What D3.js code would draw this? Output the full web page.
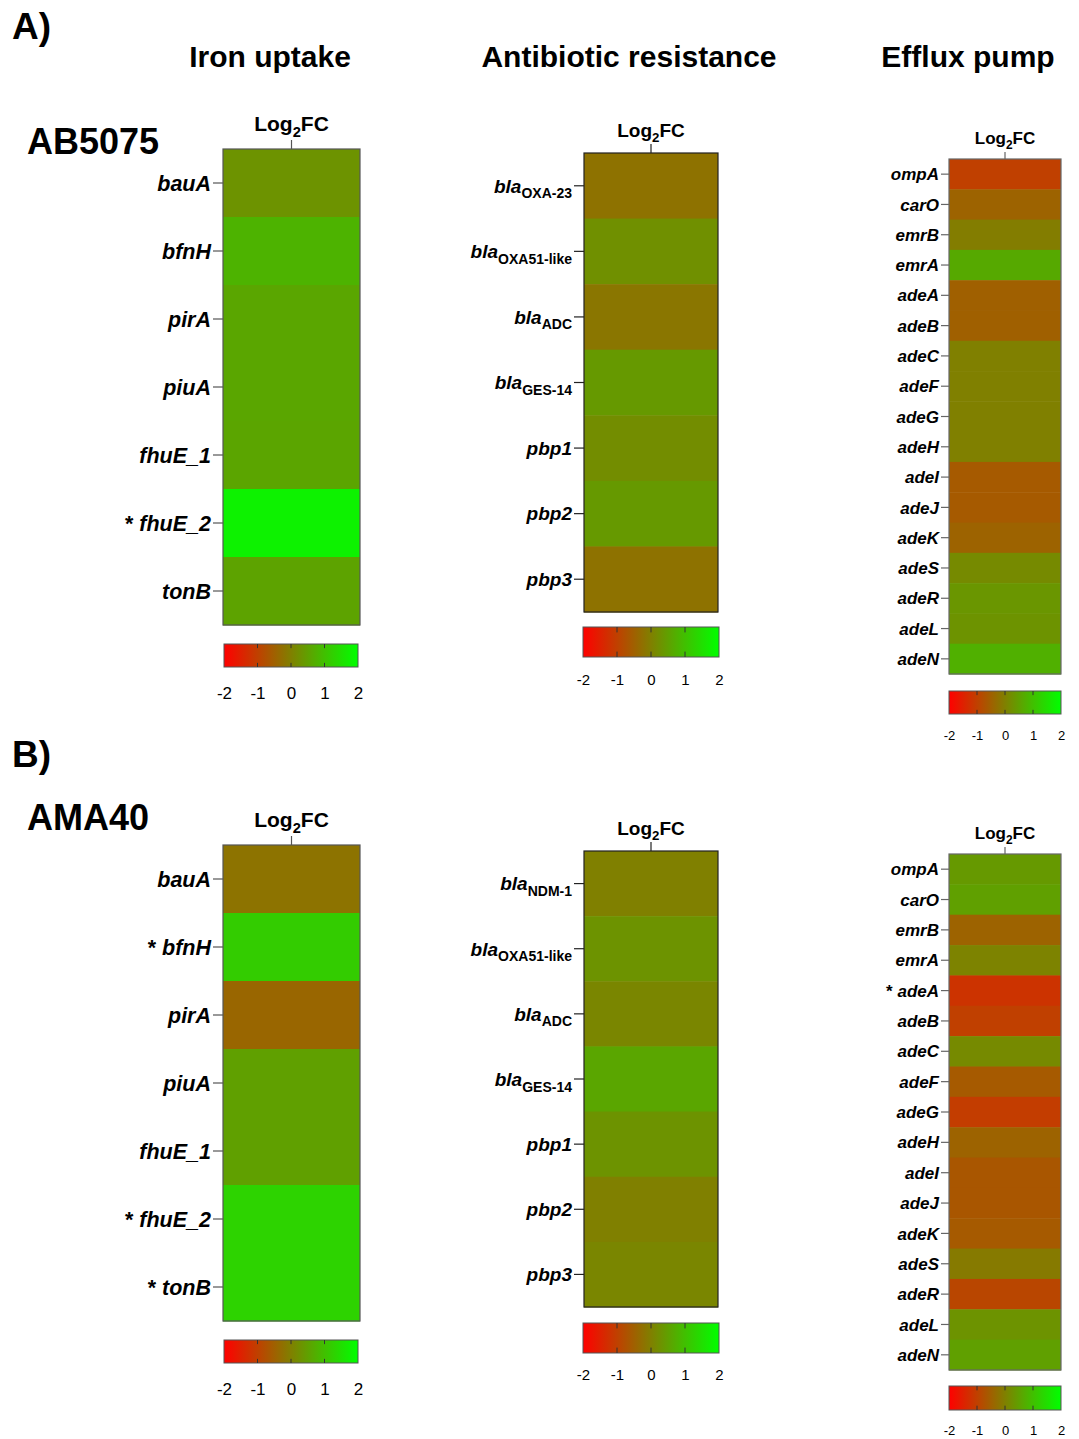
<!DOCTYPE html>
<html><head><meta charset="utf-8">
<script src="https://cdn.jsdelivr.net/npm/d3@7"></script>
<style>body{margin:0;background:#fff;}svg{display:block;font-family:"Liberation Sans",Arial,sans-serif;}</style>
</head><body>
<svg id="chart" width="1079" height="1439"></svg>
<script>
// ---------- DATA ----------
const ironGenesA = ["bauA","bfnH","pirA","piuA","fhuE_1","* fhuE_2","tonB"];
const ironValsA  = [0.3, 0.8, 0.6, 0.6, 0.58, 1.8, 0.55];
const ironGenesB = ["bauA","* bfnH","pirA","piuA","fhuE_1","* fhuE_2","* tonB"];
const ironValsB  = [-0.2, 1.2, -0.4, 0.5, 0.5, 1.3, 1.3];

const abGenesA = ["bla|OXA-23","bla|OXA51-like","bla|ADC","bla|GES-14","pbp1","pbp2","pbp3"];
const abValsA  = [-0.22, 0.25, -0.15, 0.4, 0.2, 0.4, -0.22];
const abGenesB = ["bla|NDM-1","bla|OXA51-like","bla|ADC","bla|GES-14","pbp1","pbp2","pbp3"];
const abValsB  = [0.0, 0.3, 0.1, 0.6, 0.3, 0.0, 0.1];

const effGenesA = ["ompA","carO","emrB","emrA","adeA","adeB","adeC","adeF","adeG","adeH","adeI","adeJ","adeK","adeS","adeR","adeL","adeN"];
const effValsA  = [-1.0, -0.45, -0.05, 0.65, -0.5, -0.5, 0.0, 0.0, 0.0, 0.0, -0.6, -0.6, -0.45, 0.15, 0.35, 0.3, 0.75];
const effGenesB = ["ompA","carO","emrB","emrA","* adeA","adeB","adeC","adeF","adeG","adeH","adeI","adeJ","adeK","adeS","adeR","adeL","adeN"];
const effValsB  = [0.4, 0.5, -0.45, 0.05, -1.2, -1.0, 0.15, -0.6, -1.05, -0.45, -0.65, -0.65, -0.6, -0.1, -0.9, 0.3, 0.5];

const cbTicks = [-2, -1, 0, 1, 2];
const columnTitles = ["Iron uptake", "Antibiotic resistance", "Efflux pump"];
const panelLetters = ["A)", "B)"];
const strainNames = ["AB5075", "AMA40"];

// ---------- SETUP ----------
const svg = d3.select("#chart");
const color = d3.scaleLinear().domain([-2, 0, 2]).range(["#ff0000", "#808000", "#00ff00"]).interpolate(d3.interpolateRgb);

const defs = svg.append("defs");
const grad = defs.append("linearGradient").attr("id", "cbgrad").attr("x1", "0%").attr("x2", "100%");
d3.range(-2, 2.01, 0.5).forEach(v => grad.append("stop").attr("offset", ((v + 2) / 4 * 100) + "%").attr("stop-color", color(v)));

function heatmap(cfg) {
  const g = svg.append("g");
  const y = d3.scaleBand().domain(cfg.genes).range([cfg.y0, cfg.y1]).padding(0);
  const data = cfg.genes.map((k, i) => ({k, v: cfg.vals[i]}));
  g.selectAll("rect.cell").data(data).join("rect").attr("class", "cell")
    .attr("x", cfg.x0).attr("width", cfg.x1 - cfg.x0)
    .attr("y", d => y(d.k)).attr("height", y.bandwidth() + 0.5)
    .attr("fill", d => color(d.v));
  g.append("rect").attr("x", cfg.x0).attr("y", cfg.y0).attr("width", cfg.x1 - cfg.x0).attr("height", cfg.y1 - cfg.y0)
    .attr("fill", "none").attr("stroke", cfg.stroke).attr("stroke-width", 1.2);

  // row axis
  const ax = g.append("g").attr("transform", `translate(${cfg.x0},0)`)
    .call(d3.axisLeft(y).tickSize(cfg.tick).tickPadding(3).tickFormat(""));
  ax.select(".domain").remove();
  ax.selectAll(".tick line").attr("stroke", cfg.stroke).attr("stroke-width", 1.2);
  ax.selectAll(".tick").each(function(d) {
    const t = d3.select(this).append("text").attr("x", -cfg.tick - 2).attr("dy", "0.36em")
      .attr("text-anchor", "end").attr("fill", "#000").attr("font-weight", "bold")
      .attr("font-size", cfg.fs);
    let name = d;
    if (name.startsWith("* ")) {
      t.append("tspan").attr("font-style", "normal").text("* ");
      name = name.slice(2);
    }
    if (name.includes("|")) {
      const [m, s] = name.split("|");
      t.append("tspan").attr("font-style", "italic").text(m);
      t.append("tspan").attr("font-size", cfg.fsSub).attr("dy", cfg.fs * 0.3).text(s);
    } else {
      t.append("tspan").attr("font-style", "italic").text(name);
    }
  });

  // Log2FC title
  const cx = (cfg.x0 + cfg.x1) / 2;
  const lt = g.append("text").attr("x", cx).attr("y", cfg.logY).attr("text-anchor", "middle")
    .attr("font-weight", "bold").attr("font-size", cfg.fsLog);
  lt.append("tspan").text("Log");
  lt.append("tspan").attr("font-size", cfg.fsLog * 0.7).attr("dy", cfg.fsLog * 0.28).text("2");
  lt.append("tspan").attr("dy", -cfg.fsLog * 0.28).text("FC");
  g.append("line").attr("x1", cx).attr("x2", cx).attr("y1", cfg.y0 - cfg.tick + 1).attr("y2", cfg.y0)
    .attr("stroke", cfg.stroke).attr("stroke-width", 1.2);

  // colorbar
  const cbx = d3.scaleLinear().domain([-2, 2]).range([cfg.cbX0, cfg.cbX1]);
  g.append("rect").attr("x", cfg.cbX0).attr("y", cfg.cbY0).attr("width", cfg.cbX1 - cfg.cbX0).attr("height", cfg.cbY1 - cfg.cbY0)
    .attr("fill", "url(#cbgrad)").attr("stroke", "#555").attr("stroke-width", 1);
  const inner = cbTicks.slice(1, -1);
  const tl = (cfg.cbY1 - cfg.cbY0) * 0.18;
  g.selectAll("line.cbt1").data(inner).join("line").attr("x1", d => cbx(d)).attr("x2", d => cbx(d))
    .attr("y1", cfg.cbY0).attr("y2", cfg.cbY0 + tl).attr("stroke", "#333").attr("stroke-width", 1);
  g.selectAll("line.cbt2").data(inner).join("line").attr("x1", d => cbx(d)).attr("x2", d => cbx(d))
    .attr("y1", cfg.cbY1 - tl).attr("y2", cfg.cbY1).attr("stroke", "#333").attr("stroke-width", 1);
  const cax = g.append("g").attr("transform", `translate(0,${cfg.cbLabY})`)
    .call(d3.axisBottom(cbx).tickValues(cbTicks).tickSize(0).tickPadding(0).tickFormat(d => String(d)));
  cax.select(".domain").remove();
  cax.selectAll("text").attr("font-size", cfg.fsCb).attr("fill", "#000").attr("font-family", "'Liberation Sans',Arial,sans-serif").attr("dy", "0");
}

// ---------- TEXT ----------
const letterY = [39, 767];
panelLetters.forEach((l, i) => svg.append("text").attr("x", 12).attr("y", letterY[i]).attr("font-size", 37).attr("font-weight", "bold").text(l));
const strainY = [154, 830];
strainNames.forEach((s, i) => svg.append("text").attr("x", 27).attr("y", strainY[i]).attr("font-size", 36).attr("font-weight", "bold").text(s));
const titleX = [270, 629, 968];
columnTitles.forEach((t, i) => svg.append("text").attr("x", titleX[i]).attr("y", 67).attr("text-anchor", "middle").attr("font-size", 30).attr("font-weight", "bold").text(t));

// ---------- HEATMAPS ----------
const ironCfg = {x0: 223, x1: 360, fs: 21.5, fsSub: 15, fsLog: 21, fsCb: 17, tick: 10, stroke: "#555", cbX0: 224, cbX1: 358};
const abCfg = {x0: 584, x1: 718, fs: 19, fsSub: 14, fsLog: 19, fsCb: 15, tick: 10, stroke: "#222", cbX0: 583, cbX1: 719};
const effCfg = {x0: 949, x1: 1061, fs: 17, fsSub: 12, fsLog: 17, fsCb: 13, tick: 8, stroke: "#666", cbX0: 949, cbX1: 1061};

heatmap(Object.assign({}, ironCfg, {genes: ironGenesA, vals: ironValsA, y0: 149, y1: 625, logY: 131, cbY0: 644, cbY1: 667, cbLabY: 699}));
heatmap(Object.assign({}, ironCfg, {genes: ironGenesB, vals: ironValsB, y0: 845, y1: 1321, logY: 827, cbY0: 1340, cbY1: 1363, cbLabY: 1395}));
heatmap(Object.assign({}, abCfg, {genes: abGenesA, vals: abValsA, y0: 153, y1: 612, logY: 137, cbY0: 627, cbY1: 657, cbLabY: 685}));
heatmap(Object.assign({}, abCfg, {genes: abGenesB, vals: abValsB, y0: 851, y1: 1307, logY: 835, cbY0: 1323, cbY1: 1353, cbLabY: 1380}));
heatmap(Object.assign({}, effCfg, {genes: effGenesA, vals: effValsA, y0: 159, y1: 674, logY: 144, cbY0: 691, cbY1: 714, cbLabY: 740}));
heatmap(Object.assign({}, effCfg, {genes: effGenesB, vals: effValsB, y0: 854, y1: 1370, logY: 839, cbY0: 1386, cbY1: 1410, cbLabY: 1435}));
</script>
</body></html>
